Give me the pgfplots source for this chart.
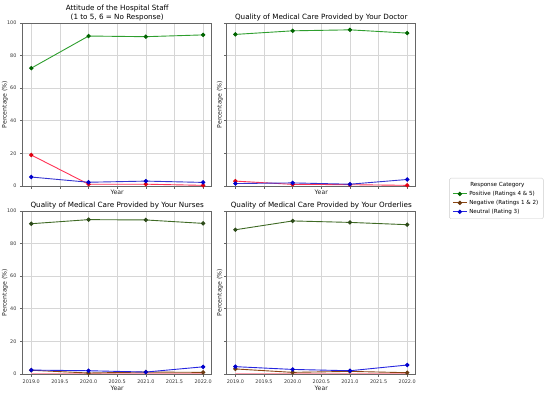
\documentclass[border=0pt]{standalone}
\usepackage{pgfplots}
\pgfplotsset{compat=1.18}
\usepackage{fontspec}
\setmainfont{DejaVu Sans}
\definecolor{posT}{HTML}{2E9E2E}
\definecolor{posTm}{HTML}{006400}
\definecolor{negT}{HTML}{FF3355}
\definecolor{negTm}{HTML}{E00010}
\definecolor{neuT}{HTML}{3535D0}
\definecolor{neuTm}{HTML}{0000CC}
\definecolor{posB}{HTML}{3F6A25}
\definecolor{posBm}{HTML}{2C4A18}
\definecolor{negB}{HTML}{8B4513}
\definecolor{negBm}{HTML}{6B3A10}
\definecolor{neuB}{HTML}{2525E0}
\definecolor{neuBm}{HTML}{0000CC}
\definecolor{legpos}{HTML}{2CA02C}
\tikzset{lab/.style={font=\fontsize{6.2}{7}\selectfont, text=black!85}}
\pgfplotsset{
  panel/.style={
    scale only axis, width=189pt, height=163pt,
    xmin=2018.85, xmax=2022.15, ymin=0, ymax=100,
    xtick={2019,2019.5,2020,2020.5,2021,2021.5,2022},
    ytick={0,20,40,60,80,100},
    scaled ticks=false,
    grid=major, grid style={black!16, line width=0.6pt},
    axis line style={black!60, line width=0.7pt},
    tick align=outside, tick pos=left, major tick length=2.8pt,
    tick style={black!60, line width=0.6pt},
    /pgf/number format/assume math mode=true,
    tick label style={font=\fontsize{4.9}{5.5}\selectfont, text=black!80},
    x tick label style={/pgf/number format/.cd, fixed, fixed zerofill, precision=1, set thousands separator={}},
    every axis title shift=0pt,
    title style={font=\fontsize{7.2}{9.2}\selectfont, align=center, at={(0.5,1)}, anchor=south, inner sep=1pt, yshift=1pt},
    xlabel=Year, ylabel={Percentage (\%)},
    every axis plot/.append style={line width=0.9pt, mark=*, mark size=1.7pt},
  },
  toprow/.style={xticklabels={}, every axis x label/.style={at={(axis description cs:0.5,-0.039)}, anchor=center, lab}},
  botrow/.style={every axis x label/.style={at={(axis description cs:0.5,-0.086)}, anchor=center, lab}},
  leftcol/.style={every axis y label/.style={at={(axis description cs:-0.094,0.5)}, rotate=90, anchor=center, lab}},
  rightcol/.style={yticklabels={}, every axis y label/.style={at={(axis description cs:-0.037,0.5)}, rotate=90, anchor=center, lab}},
}
\begin{document}
\begin{tikzpicture}
\path[use as bounding box] (0,0) rectangle (550pt,396pt);
% Top-left
\begin{axis}[panel, toprow, leftcol, at={(22.7pt,210pt)}, anchor=south west,
  title={Attitude of the Hospital Staff\\(1 to 5, 6 = No Response)}]
\addplot[color=posT, mark options={fill=posTm, draw=posTm}] coordinates {(2019,72.3) (2020,92.0) (2021,91.6) (2022,92.7)};
\addplot[color=negT, mark options={fill=negTm, draw=negTm}] coordinates {(2019,19.0) (2020,1.1) (2021,1.1) (2022,0.4)};
\addplot[color=neuT, mark options={fill=neuTm, draw=neuTm}] coordinates {(2019,5.5) (2020,2.3) (2021,3.0) (2022,2.2)};
\end{axis}
% Top-right
\begin{axis}[panel, toprow, rightcol, at={(226.8pt,210pt)}, anchor=south west,
  title={Quality of Medical Care Provided by Your Doctor}]
\addplot[color=posT, mark options={fill=posTm, draw=posTm}] coordinates {(2019,93.0) (2020,95.2) (2021,95.8) (2022,93.8)};
\addplot[color=negT, mark options={fill=negTm, draw=negTm}] coordinates {(2019,3.0) (2020,1.0) (2021,0.8) (2022,0.4)};
\addplot[color=neuT, mark options={fill=neuTm, draw=neuTm}] coordinates {(2019,1.5) (2020,1.9) (2021,1.1) (2022,4.0)};
\end{axis}
% Bottom-left
\begin{axis}[panel, botrow, leftcol, at={(22.7pt,22pt)}, anchor=south west,
  title={Quality of Medical Care Provided by Your Nurses}]
\addplot[color=negT!45, line width=0.8pt, mark=none] coordinates {(2019,0.1) (2022,0.1)};
\addplot[color=posB, mark options={fill=posBm, draw=posBm}] coordinates {(2019,92.2) (2020,94.7) (2021,94.5) (2022,92.4)};
\addplot[color=negB, mark options={fill=negBm, draw=negBm}] coordinates {(2019,2.3) (2020,0.6) (2021,1.2) (2022,1.0)};
\addplot[color=neuB, mark options={fill=neuBm, draw=neuBm}] coordinates {(2019,2.4) (2020,2.0) (2021,1.2) (2022,4.4)};
\end{axis}
% Bottom-right
\begin{axis}[panel, botrow, rightcol, at={(226.8pt,22pt)}, anchor=south west,
  title={Quality of Medical Care Provided by Your Orderlies},
  legend style={at={(axis description cs:1.1765,1.2025)}, anchor=north west,
    font=\fontsize{5.6}{6.5}\selectfont, draw=black!20, rounded corners=1.5pt,
    inner xsep=3pt, inner ysep=2pt, row sep=-0.8pt},
  legend cell align=left,
  legend image code/.code={\draw[mark repeat=2, mark phase=2, #1] plot coordinates {(0pt,0pt) (7pt,0pt) (14pt,0pt)};}]
\addplot[color=negT!45, line width=0.8pt, mark=none, forget plot] coordinates {(2019,0.1) (2022,0.1)};
\addplot[color=posB, mark options={fill=posBm, draw=posBm}, forget plot] coordinates {(2019,88.5) (2020,93.9) (2021,93.0) (2022,91.6)};
\addplot[color=negB, mark options={fill=negBm, draw=negBm}, forget plot] coordinates {(2019,3.1) (2020,1.0) (2021,1.6) (2022,0.8)};
\addplot[color=neuB, mark options={fill=neuBm, draw=neuBm}, forget plot] coordinates {(2019,4.5) (2020,2.8) (2021,2.0) (2022,5.5)};
\addlegendimage{empty legend}
\addlegendentry{\hspace{1pt}Response Category}
\addlegendimage{color=legpos, line width=0.9pt, mark=*, mark size=1.7pt, mark options={fill=posTm, draw=posTm}}
\addlegendentry{Positive (Ratings 4 \& 5)}
\addlegendimage{color=negB, line width=0.9pt, mark=*, mark size=1.7pt, mark options={fill=negBm, draw=negBm}}
\addlegendentry{Negative (Ratings 1 \& 2)}
\addlegendimage{color=neuB, line width=0.9pt, mark=*, mark size=1.7pt, mark options={fill=neuBm, draw=neuBm}}
\addlegendentry{Neutral (Rating 3)}
\end{axis}
\end{tikzpicture}
\end{document}
